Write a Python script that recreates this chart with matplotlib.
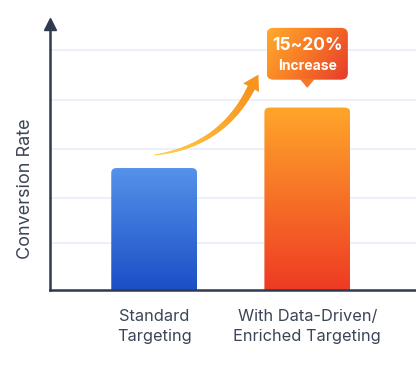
import numpy as np
import matplotlib

matplotlib.use("Agg")
import matplotlib.pyplot as plt
from matplotlib.patches import FancyBboxPatch, Polygon
from matplotlib.collections import LineCollection
from matplotlib.colors import LinearSegmentedColormap

# ── data ──────────────────────────────────────────────────────────────────────
categories = ["Standard\nTargeting", "With Data-Driven/\nEnriched Targeting"]
values = [2.54, 3.8]
grid_levels = [0.98, 1.92, 2.94, 3.96, 5.0]
callout_top = "15~20%"
callout_bottom = "Increase"

# ── palette ───────────────────────────────────────────────────────────────────
AXIS = "#2f3a4f"
TEXT = "#3b4557"
GRID = "#e9eef8"
BAR_GRADS = [("#5592ea", "#1a4fc6"), ("#ffa62a", "#ee3b24")]

plt.rcParams["font.family"] = ["Inter", "DejaVu Sans"]

fig = plt.figure(figsize=(4.16, 3.66), dpi=100)
fig.patch.set_facecolor("white")
ax = fig.add_axes([50 / 416, 76 / 366, 366 / 416, 266 / 366])
ax.set_xlim(-0.68, 1.71)
ax.set_ylim(0, 5.54)

for s in ["top", "right"]:
    ax.spines[s].set_visible(False)
for s in ["left", "bottom"]:
    ax.spines[s].set_color(AXIS)
    ax.spines[s].set_linewidth(1.8)
ax.set_yticks([])
ax.set_xticks(range(len(categories)))
ax.set_xticklabels(categories, fontsize=11.8, color=TEXT, linespacing=1.38)
ax.tick_params(axis="x", length=0, pad=14)
ax.set_ylabel("Conversion Rate", fontsize=13, color=TEXT, labelpad=10)
ax.yaxis.set_label_coords(-0.045, 0.38)

for g in grid_levels:
    ax.axhline(g, color=GRID, lw=1.2, zorder=0)

# y axis arrow head
ax.plot([0], [1.0], marker="^", ms=8, color=AXIS, transform=ax.transAxes,
        clip_on=False, zorder=6)

# ── gradient bars ─────────────────────────────────────────────────────────────
bars = ax.bar(range(len(categories)), values, width=0.56, color="none", zorder=2)
for bar, (c_top, c_bot) in zip(bars, BAR_GRADS):
    x0, w, h = bar.get_x(), bar.get_width(), bar.get_height()
    clip = FancyBboxPatch((x0, -0.3), w, h + 0.3,
                          boxstyle="round,pad=0,rounding_size=0.035",
                          mutation_aspect=2.9, transform=ax.transData,
                          facecolor="none", edgecolor="none")
    ax.add_patch(clip)
    cmap = LinearSegmentedColormap.from_list("g", [c_bot, c_top])
    grad = np.linspace(0, 1, 256).reshape(-1, 1)
    im = ax.imshow(grad, cmap=cmap, origin="lower", aspect="auto",
                   extent=(x0, x0 + w, 0, h), zorder=2)
    im.set_clip_path(clip)

ax.set_xlim(-0.68, 1.71)
ax.set_ylim(0, 5.54)

# ── curved growth arrow ───────────────────────────────────────────────────────
p0 = np.array([0.0, 2.81])
p1 = np.array([0.45, 3.0])
p2 = np.array([0.64, 4.25])
t = np.linspace(0, 1, 60)
curve = ((1 - t) ** 2)[:, None] * p0 + (2 * (1 - t) * t)[:, None] * p1 + (t ** 2)[:, None] * p2
segs = np.stack([curve[:-1], curve[1:]], axis=1)
arrow_cmap = LinearSegmentedColormap.from_list("a", ["#ffd04a", "#f7931e"])
lc = LineCollection(segs, colors=arrow_cmap(t[:-1]), linewidths=0.6 + 5.0 * t[:-1] ** 0.8,
                    capstyle="round", zorder=4)
ax.add_collection(lc)

# arrow head in display space
disp = ax.transData.transform(curve[-8:])
d = disp[-1] - disp[0]
d = d / np.hypot(*d)
n = np.array([-d[1], d[0]])
base = ax.transData.transform(p2) - d * 2
tip = base + d * 15
head = np.array([tip, base + n * 9, base - n * 9])
head_data = ax.transData.inverted().transform(head)
ax.add_patch(Polygon(head_data, closed=True, facecolor="#f7951f", edgecolor="none", zorder=5))

# ── callout bubble ────────────────────────────────────────────────────────────
cx, cy0, cy1 = 1.0, 4.38, 5.46
bw = 0.53
bubble = FancyBboxPatch((cx - bw / 2, cy0), bw, cy1 - cy0,
                        boxstyle="round,pad=0,rounding_size=0.045",
                        mutation_aspect=2.9, facecolor="none", edgecolor="none")
ax.add_patch(bubble)
bub_cmap = LinearSegmentedColormap.from_list("b", ["#ffab2c", "#f77a26", "#e8402a"])
gx, gy = np.meshgrid(np.linspace(0, 1, 128), np.linspace(0, 1, 128))
im2 = ax.imshow(np.clip(0.75 * gx + 0.35 * (1 - gy), 0, 1), cmap=bub_cmap,
                origin="lower", aspect="auto",
                extent=(cx - bw / 2, cx + bw / 2, cy0 - 0.2, cy1), zorder=5)
im2.set_clip_path(bubble)
ax.add_patch(Polygon([[cx - 0.05, cy0 + 0.02], [cx + 0.05, cy0 + 0.02], [cx, cy0 - 0.17]],
                     closed=True, facecolor="#f5782a", edgecolor="none", zorder=5))
ax.text(cx, 5.1, callout_top, ha="center", va="center", color="white",
        fontsize=12.5, fontweight="bold", zorder=6)
ax.text(cx, 4.66, callout_bottom, ha="center", va="center", color="white",
        fontsize=10, fontweight="bold", zorder=6)

ax.set_xlim(-0.68, 1.71)
ax.set_ylim(0, 5.54)

fig.savefig("out.png", dpi=100, facecolor="white")
